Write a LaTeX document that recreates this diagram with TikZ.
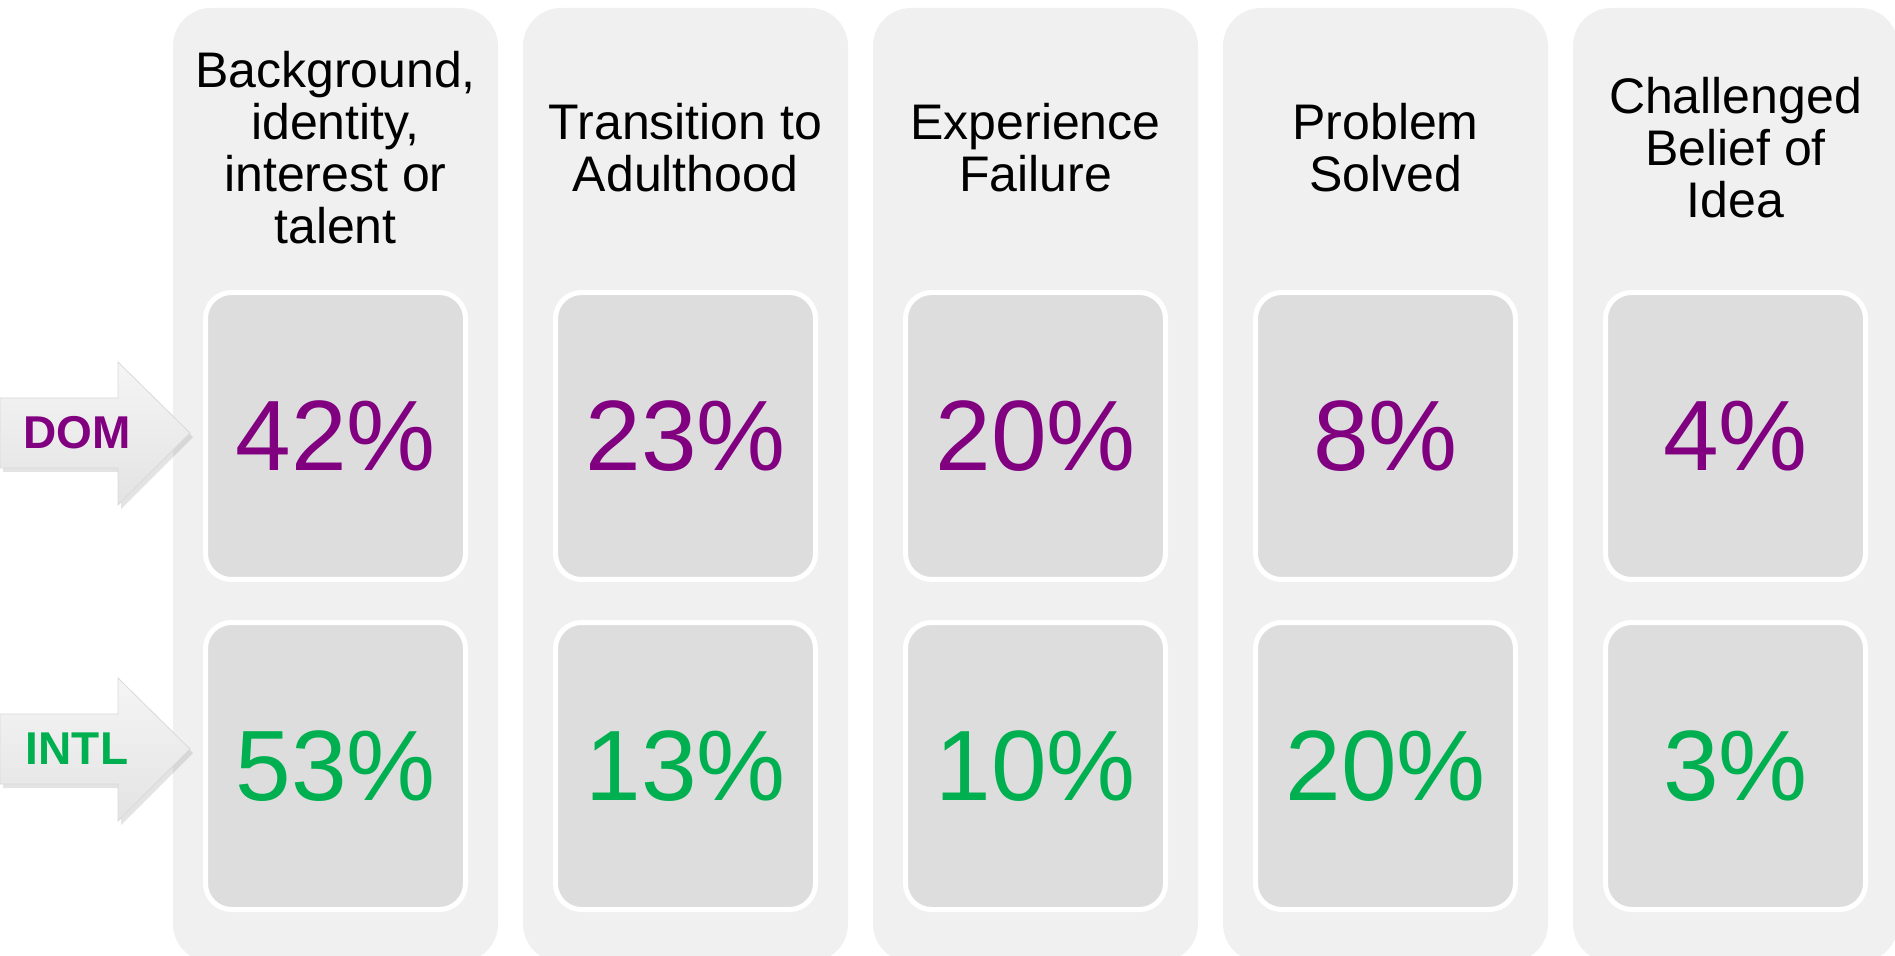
\documentclass[tikz,border=0pt]{standalone}
\usepackage{fontspec}
\setmainfont{Liberation Sans}
\usetikzlibrary{shadows}
\definecolor{dompurple}{RGB}{128,0,128}
\definecolor{intlgreen}{RGB}{0,176,80}
\definecolor{colgray}{RGB}{240,240,240}
\definecolor{cellgray}{RGB}{221,221,221}
\tikzset{
  stage/.style={fill=colgray,rounded corners=19pt,inner sep=0pt,
    minimum width=162.5pt,minimum height=477pt},
  cell/.style={fill=cellgray,draw=white,line width=2.5pt,rounded corners=13pt,
    minimum width=130pt,minimum height=143.5pt,font=\fontsize{50}{60}\selectfont},
  head/.style={align=center,font=\fontsize{25}{26}\selectfont},
  arrowshape/.style={top color=gray!8,bottom color=gray!22,draw=gray!30,line width=0.4pt,
    drop shadow={opacity=0.22,shadow xshift=1.5pt,shadow yshift=-2pt}},
  rowlabel/.style={font=\fontsize{23}{26}\bfseries\selectfont}
}
% #1 name, #2 centre line, #3 colour, #4 text
\newcommand{\rowarrow}[4]{
  \path[arrowshape] (0,#2-35) -- (118,#2-35) -- (118,#2-71) -- (190,#2)
    -- (118,#2+72) -- (118,#2+35) -- (0,#2+35) -- cycle;
  \node[rowlabel,text=#3] (#1) at (77,#2) {#4};
}

\begin{document}
\begin{tikzpicture}[x=0.5pt,y=-0.5pt]
\useasboundingbox (0,0) rectangle (1895,956);
\clip (0,0) rectangle (1895,956);
\foreach \x/\txt/\dom/\intl [count=\i] in {
    335.5/{Background,\\identity,\\interest or\\talent}/42/53,
    685.5/{Transition to\\Adulthood}/23/13,
    1035.5/{Experience\\Failure}/20/10,
    1385.5/{Problem\\Solved}/8/20,
    1735.5/{Challenged\\Belief of\\Idea}/4/3}{
  \node[stage] (col\i) at (\x,485) {};
  \node[head] (head\i) at (\x,148) {\txt};
  \node[cell,text=dompurple] (dom\i) at (\x,436) {\dom\%};
  \node[cell,text=intlgreen] (intl\i) at (\x,766) {\intl\%};
}
\rowarrow{domlbl}{433}{dompurple}{DOM}
\rowarrow{intllbl}{749}{intlgreen}{INTL}
\end{tikzpicture}
\end{document}
